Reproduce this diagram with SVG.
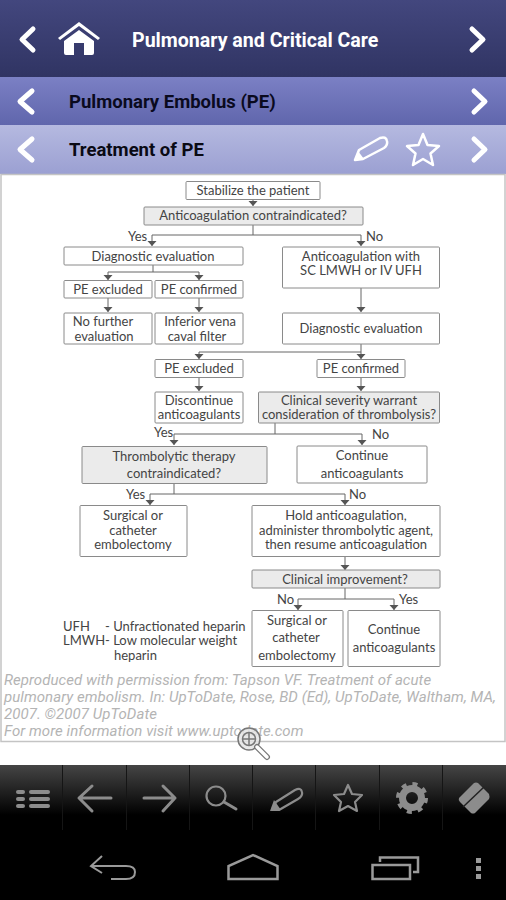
<svg xmlns="http://www.w3.org/2000/svg" width="506" height="900" viewBox="0 0 506 900">
<style>
.box{fill:#fff;stroke:#8a8a8a;stroke-width:1}
.q{fill:#ebebeb;stroke:#8a8a8a;stroke-width:1}
.t{font-family:Lato,"Open Sans",sans-serif;font-size:13px;fill:#444;text-anchor:middle}
.l{font-family:Lato,"Open Sans",sans-serif;font-size:13px;fill:#444}
.c{fill:none;stroke:#666;stroke-width:1}
.fn{font-family:Roboto,sans-serif;font-style:italic;font-size:15px;fill:#b4b4b4;letter-spacing:.06px}
.hd{font-family:Roboto,sans-serif;font-weight:700;font-size:18.5px}
.hd1{font-size:19.6px}
.chev{fill:none;stroke:#fff;stroke-width:5;stroke-linecap:round;stroke-linejoin:round}
.ic{fill:none;stroke:#fff;stroke-width:2.5;stroke-linejoin:round}
.tb{fill:none;stroke:#8c8c8c;stroke-width:3;stroke-linecap:round;stroke-linejoin:round}
.tb2{stroke-width:2.2}
.nv{fill:none;stroke:#9a9a9a;stroke-width:2}
.nv2{stroke-width:2.5}
.sep{stroke:#151515;stroke-width:1}
</style>
<defs>
<linearGradient id="g1" x1="0" y1="0" x2="0" y2="1"><stop offset="0" stop-color="#43477e"/><stop offset="1" stop-color="#303463"/></linearGradient>
<linearGradient id="g2" x1="0" y1="0" x2="0" y2="1"><stop offset="0" stop-color="#7b80c4"/><stop offset="1" stop-color="#6066ac"/></linearGradient>
<linearGradient id="g3" x1="0" y1="0" x2="0" y2="1"><stop offset="0" stop-color="#b5b9e0"/><stop offset="1" stop-color="#9ba0d2"/></linearGradient>
<linearGradient id="g4" x1="0" y1="0" x2="0" y2="1"><stop offset="0" stop-color="#454545"/><stop offset="1" stop-color="#000"/></linearGradient>
<marker id="a" markerUnits="userSpaceOnUse" markerWidth="6" markerHeight="10" refX="5" refY="4.500" orient="auto"><path d="M0 0L5 4.500L0 9Z" fill="#555"/></marker>
</defs>
<rect width="506" height="900" fill="#fff"/>
<g id="header1"><rect width="506" height="77" fill="url(#g1)"/>
<path class="chev" d="M33 29L22 39.500L33 50"/>
<path id="home" d="M58 38L79 22L100 38L98 40L79 26L60 40ZM64 41L79 30L94 41V53Q94 55 92 55H84V43H74V55H66Q64 55 64 53Z" fill="#fff"/>
<text class="hd hd1" x="132" y="46.500" fill="#fff">Pulmonary and Critical Care</text>
<path class="chev" d="M472 29L483 39.500L472 50"/></g>
<g id="header2"><rect y="77" width="506" height="48" fill="url(#g2)"/>
<path class="chev" d="M32 91L20 101.500L32 112"/>
<text class="hd" x="69" y="108" fill="#0a0a1e">Pulmonary Embolus (PE)</text>
<path class="chev" d="M474 91L485 101.500L474 112"/></g>
<g id="header3"><rect y="125" width="506" height="49" fill="url(#g3)"/>
<path class="chev" d="M32 139L20 149.500L32 160"/>
<text class="hd" x="69" y="156" fill="#0a0a14">Treatment of PE</text>
<path class="ic" d="M359 150L380 138Q386 136 387 141Q388 145 384 148L363 159L355 160Z"/>
<path d="M354 161L358 151L364 159Z" fill="#fff"/>
<path class="ic" d="M423 134L427.500 145L439 146L430.500 153.500L433 165L423 159L413 165L415.500 153.500L407 146L418.500 145Z"/>
<path class="chev" d="M474 139L485 149.500L474 160"/></g>
<rect id="panel" x="1" y="174.500" width="504" height="567" fill="#fff" stroke="#c4c4c4" stroke-width="1.500"/>
<g id="connectors">
<path class="c" d="M253 199V206" marker-end="url(#a)"/>
<path class="c" d="M253 225V235M253 235H152V246" marker-end="url(#a)"/>
<path class="c" d="M253 235H361V246" marker-end="url(#a)"/>
<path class="c" d="M153 265V272H108V280" marker-end="url(#a)"/>
<path class="c" d="M153 272H199V280" marker-end="url(#a)"/>
<path class="c" d="M108 298V312" marker-end="url(#a)"/>
<path class="c" d="M199 298V312" marker-end="url(#a)"/>
<path class="c" d="M361 288V312" marker-end="url(#a)"/>
<path class="c" d="M361 344V352H199V359" marker-end="url(#a)"/>
<path class="c" d="M361 352V359" marker-end="url(#a)"/>
<path class="c" d="M199 378V391" marker-end="url(#a)"/>
<path class="c" d="M361 378V391" marker-end="url(#a)"/>
<path class="c" d="M275 423V434H174V445" marker-end="url(#a)"/>
<path class="c" d="M275 434H362V445" marker-end="url(#a)"/>
<path class="c" d="M174 483V494H150V505" marker-end="url(#a)"/>
<path class="c" d="M174 494H345V505" marker-end="url(#a)"/>
<path class="c" d="M345 556V570" marker-end="url(#a)"/>
<path class="c" d="M345 588V599H298V610" marker-end="url(#a)"/>
<path class="c" d="M345 599H394V610" marker-end="url(#a)"/>
</g>
<g id="n1"><rect class="box" x="186" y="181.500" width="134" height="18" rx="1"/><text class="t" x="253" y="195">Stabilize the patient</text></g>
<g id="n2"><rect class="q" x="144" y="207" width="219" height="18" rx="1"/><text class="t" x="253" y="220">Anticoagulation contraindicated?</text></g>
<text class="l" x="128" y="241">Yes</text>
<text class="l" x="366" y="241">No</text>
<g id="n3"><rect class="box" x="64" y="247" width="179" height="18" rx="1"/><text class="t" x="153" y="261">Diagnostic evaluation</text></g>
<g id="n4"><rect class="box" x="282.500" y="247" width="157" height="41" rx="1"/><text class="t" x="361" y="261">Anticoagulation with</text><text class="t" x="361" y="275">SC LMWH or IV UFH</text></g>
<g id="n5"><rect class="box" x="64" y="280.500" width="88" height="17.500" rx="1"/><text class="t" x="108" y="294">PE excluded</text></g>
<g id="n6"><rect class="box" x="155" y="280.500" width="88" height="17.500" rx="1"/><text class="t" x="199" y="294">PE confirmed</text></g>
<g id="n7"><rect class="box" x="64" y="313" width="88" height="31" rx="1"/><text class="t" x="103" y="326">No further</text><text class="t" x="104" y="341">evaluation</text></g>
<g id="n8"><rect class="box" x="155" y="313" width="88" height="31" rx="1"/><text class="t" x="200" y="326">Inferior vena</text><text class="t" x="197" y="341">caval filter</text></g>
<g id="n9"><rect class="box" x="282.500" y="313" width="157" height="31" rx="1"/><text class="t" x="361" y="333">Diagnostic evaluation</text></g>
<g id="n10"><rect class="box" x="155" y="359.500" width="88" height="18" rx="1"/><text class="t" x="199" y="373">PE excluded</text></g>
<g id="n11"><rect class="box" x="317" y="359.500" width="88" height="18" rx="1"/><text class="t" x="361" y="373">PE confirmed</text></g>
<g id="n12"><rect class="box" x="155" y="392" width="88" height="31" rx="1"/><text class="t" x="199" y="405">Discontinue</text><text class="t" x="199" y="419">anticoagulants</text></g>
<g id="n13"><rect class="q" x="258.500" y="392" width="181" height="31" rx="1"/><text class="t" x="349" y="405">Clinical severity warrant</text><text class="t" x="349" y="419">consideration of thrombolysis?</text></g>
<text class="l" x="154" y="437">Yes</text>
<text class="l" x="372" y="439">No</text>
<g id="n14"><rect class="q" x="82" y="446.500" width="185" height="37" rx="1"/><text class="t" x="174" y="461">Thrombolytic therapy</text><text class="t" x="174" y="478">contraindicated?</text></g>
<g id="n15"><rect class="box" x="297" y="446" width="130" height="37" rx="1"/><text class="t" x="362" y="460">Continue</text><text class="t" x="362" y="478">anticoagulants</text></g>
<text class="l" x="126" y="499">Yes</text>
<text class="l" x="349" y="499">No</text>
<g id="n16"><rect class="box" x="80" y="505.500" width="107" height="51" rx="1"/><text class="t" x="133" y="520">Surgical or</text><text class="t" x="133" y="535">catheter</text><text class="t" x="133" y="549">embolectomy</text></g>
<g id="n17"><rect class="box" x="252" y="505.500" width="188" height="51" rx="1"/><text class="t" x="346" y="520">Hold anticoagulation,</text><text class="t" x="346" y="535">administer thrombolytic agent,</text><text class="t" x="346" y="549">then resume anticoagulation</text></g>
<g id="n18"><rect class="q" x="252" y="570" width="188" height="18" rx="1"/><text class="t" x="345" y="584">Clinical improvement?</text></g>
<text class="l" x="277" y="604">No</text>
<text class="l" x="399" y="604">Yes</text>
<g id="n19"><rect class="box" x="252" y="610.500" width="91" height="56" rx="1"/><text class="t" x="297" y="625">Surgical or</text><text class="t" x="296" y="642">catheter</text><text class="t" x="297" y="660">embolectomy</text></g>
<g id="n20"><rect class="box" x="348" y="610.500" width="92" height="56" rx="1"/><text class="t" x="394" y="634">Continue</text><text class="t" x="394" y="652">anticoagulants</text></g>
<g id="legend"><text class="l" x="63" y="631">UFH</text><text class="l" x="105" y="631">- Unfractionated heparin</text><text class="l" x="63" y="645">LMWH</text><text class="l" x="105" y="645">- Low molecular weight</text><text class="l" x="114" y="660">heparin</text></g>
<g id="credit"><text class="fn" x="4" y="685">Reproduced with permission from: Tapson VF. Treatment of acute</text>
<text class="fn" x="4" y="702">pulmonary embolism. In: UpToDate, Rose, BD (Ed), UpToDate, Waltham, MA,</text>
<text class="fn" x="4" y="719">2007. ©2007 UpToDate</text>
<text class="fn" x="4" y="736">For more information visit www.uptodate.com</text></g>
<g id="zoom-lens"><circle cx="249" cy="739" r="11" fill="#e4e4e4" fill-opacity=".85" stroke="#777" stroke-width="1.500"/>
<circle cx="249" cy="739" r="6.500" fill="none" stroke="#777" stroke-width="1.500"/><path d="M242.500 739H255.500M249 732.500V745.500" stroke="#777" stroke-width="1.500"/>
<path d="M257 747L267 757" stroke="#777" stroke-width="6" stroke-linecap="round"/><path d="M257 747L267 757" stroke="#fff" stroke-width="3.500" stroke-linecap="round"/></g>
<g id="toolbar"><rect y="765" width="506" height="50" fill="url(#g4)"/><rect y="815" width="506" height="85" fill="#000"/>
<path class="sep" d="M62.500 765V830M126.500 765V830M189.500 765V830M252.500 765V830M315.500 765V830M379.500 765V830M442.500 765V830"/>
<g fill="#8c8c8c"><rect x="16" y="790" width="9" height="4" rx="2"/><rect x="16" y="797" width="9" height="4" rx="2"/><rect x="16" y="804" width="9" height="4" rx="2"/><rect x="29" y="790" width="21" height="4" rx="2"/><rect x="29" y="797" width="21" height="4" rx="2"/><rect x="29" y="804" width="21" height="4" rx="2"/></g>
<path class="tb" d="M111 798H80M92 786L79 798L92 811"/>
<path class="tb" d="M144 798H175M163 786L175 798L163 811"/>
<circle class="tb tb2" cx="216" cy="796" r="9.500"/><path class="tb" d="M224 802L236 809"/>
<path class="tb tb2" d="M276 802L295 790Q301 787 302 792Q303 796 298 799L279 810L272 810Z"/>
<path d="M270 811L274 800L281 810Z" fill="#8c8c8c"/>
<path class="tb tb2" d="M348 785L352 794L362 795L355 802L357 811L348 806L339 811L341 802L334 795L344 794Z"/>
<circle cx="412" cy="798" r="9.500" fill="none" stroke="#8c8c8c" stroke-width="7"/><circle cx="412" cy="798" r="14" fill="none" stroke="#8c8c8c" stroke-width="4" stroke-dasharray="5 5.996"/>
<path d="M459 798L474 783Q476 782 478 783L489 794Q490 797 489 799L475 813Q473 814 471 813L460 802Q458 800 459 798Z" fill="#8c8c8c"/><path d="M463 807L484 787" stroke="#222" stroke-width="1.500"/></g>
<g id="navbar">
<path class="nv" d="M102 856L91 866L102 873M91 866H126Q135 866 135 872Q135 879 126 879H111"/>
<path class="nv nv2" d="M228.500 879V866L253 855L277.500 866V879Z"/>
<path class="nv nv2" d="M372.500 865H410V879H372.500ZM380 862V857.500H418V872H413"/>
<g fill="#9a9a9a"><rect x="476" y="858" width="5" height="5"/><rect x="476" y="866" width="5" height="5"/><rect x="476" y="874" width="5" height="5"/></g></g>
</svg>
